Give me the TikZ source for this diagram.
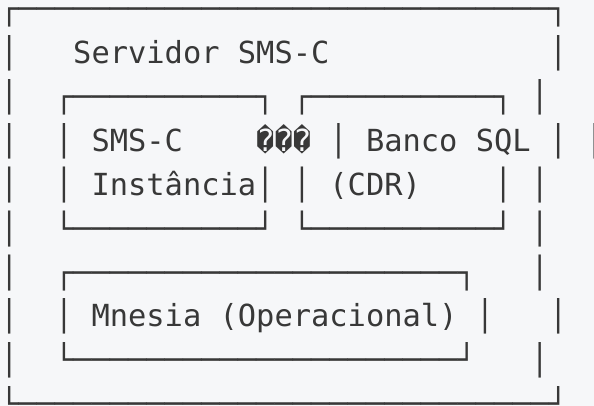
\documentclass[tikz,border=0pt]{standalone}
\usepackage{fontspec}
\newfontfamily\dmono{DejaVu Sans Mono}
\ExplSyntaxOn
\cs_new:Npn \myrep #1#2 { \prg_replicate:nn {#1} {#2} }
\ExplSyntaxOff
\definecolor{bgc}{HTML}{F6F7F9}
\definecolor{ink}{HTML}{383838}
\newcommand\cellat[4]{\node[txt] (#1) at ({18.3*#2},{19.6+43.9*#3}) {#4};}
\newcommand\rowclip[1]{\clip (0,{-8.6+43.9*#1}) rectangle (594,{27.0+43.9*#1});}
\begin{document}
\begin{tikzpicture}[x=1pt,y=-1pt,
  txt/.style={font=\dmono\fontsize{30.4}{36}\selectfont, text=ink, inner sep=0pt, outer sep=0pt, anchor=base west}]
\fill[bgc] (0,0) rectangle (594,406);
\useasboundingbox (0,0) rectangle (594,406);
\clip (0,0) rectangle (594,406);
% row 0
\begin{scope}\rowclip{0}
\cellat{top}{0}{0}{┌\myrep{29}{─}┐}
\end{scope}
% row 1
\begin{scope}\rowclip{1}
\cellat{r1a}{0}{1}{│}
\cellat{title1}{4}{1}{Servidor}
\cellat{title2}{13}{1}{SMS-C}
\cellat{r1b}{30}{1}{│}
\end{scope}
% row 2
\begin{scope}\rowclip{2}
\cellat{r2a}{0}{2}{│}
\cellat{boxAtop}{3}{2}{┌\myrep{10}{─}┐}
\cellat{boxBtop}{16}{2}{┌\myrep{10}{─}┐}
\cellat{r2b}{29}{2}{│}
\end{scope}
% row 3
\begin{scope}\rowclip{3}
\cellat{r3a}{0}{3}{│}
\cellat{r3b}{3}{3}{│}
\cellat{smsc}{5}{3}{SMS-C}
\cellat{repl}{14}{3}{���}
\cellat{r3c}{18}{3}{│}
\cellat{banco}{20}{3}{Banco}
\cellat{sql}{26}{3}{SQL}
\cellat{r3d}{30}{3}{│}
\cellat{r3e}{32}{3}{│}
\end{scope}
% row 4
\begin{scope}\rowclip{4}
\cellat{r4a}{0}{4}{│}
\cellat{r4b}{3}{4}{│}
\cellat{inst}{5}{4}{Instância│}
\cellat{r4c}{16}{4}{│}
\cellat{cdr}{18}{4}{(CDR)}
\cellat{r4d}{27}{4}{│}
\cellat{r4e}{29}{4}{│}
\end{scope}
% row 5
\begin{scope}\rowclip{5}
\cellat{r5a}{0}{5}{│}
\cellat{boxAbot}{3}{5}{└\myrep{10}{─}┘}
\cellat{boxBbot}{16}{5}{└\myrep{10}{─}┘}
\cellat{r5b}{29}{5}{│}
\end{scope}
% row 6
\begin{scope}\rowclip{6}
\cellat{r6a}{0}{6}{│}
\cellat{boxCtop}{3}{6}{┌\myrep{21}{─}┐}
\cellat{r6b}{29}{6}{│}
\end{scope}
% row 7
\begin{scope}\rowclip{7}
\cellat{r7a}{0}{7}{│}
\cellat{r7b}{3}{7}{│}
\cellat{mnesia}{5}{7}{Mnesia}
\cellat{oper}{12}{7}{(Operacional)}
\cellat{r7c}{26}{7}{│}
\cellat{r7d}{30}{7}{│}
\end{scope}
% row 8
\begin{scope}\rowclip{8}
\cellat{r8a}{0}{8}{│}
\cellat{boxCbot}{3}{8}{└\myrep{21}{─}┘}
\cellat{r8b}{29}{8}{│}
\end{scope}
% row 9
\begin{scope}\rowclip{9}
\cellat{bottom}{0}{9}{└\myrep{29}{─}┘}
\end{scope}
\end{tikzpicture}
\end{document}
